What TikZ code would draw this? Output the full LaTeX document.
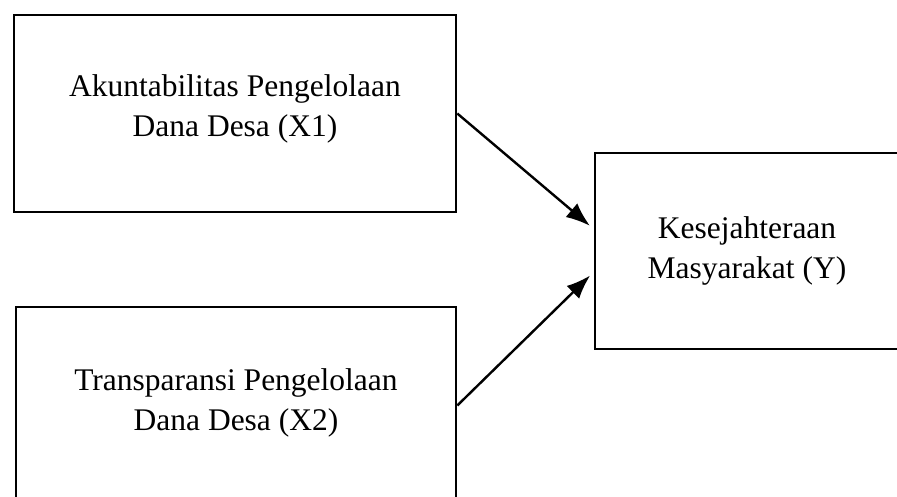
\documentclass[tikz,border=0pt]{standalone}
\usepackage{fontspec}
\setmainfont{Liberation Serif}
\usetikzlibrary{arrows.meta}

\tikzset{
	varbox/.style = {draw, line width=2.6pt, inner sep=0pt},
	vartext/.style = {align=center, inner sep=0pt, font=\fontsize{31.5}{40}\selectfont},
	link/.style = {line width=2.4pt, -{Latex[length=24pt, width=18pt]}, shorten >=5pt}
}

\begin{document}
\begin{tikzpicture}[x=1pt, y=-1pt]
		\useasboundingbox (0, 0) rectangle (897, 496);
		\clip (0, 0) rectangle (897, 496);
		
		% left
		\node[varbox, minimum width=442pt, minimum height=197pt] (akun) at (235, 113.5) {};
		\node[vartext, yshift=5pt] (akuntext) at (akun) {Akuntabilitas Pengelolaan\\Dana Desa (X1)};
		\node[varbox, minimum width=440pt, minimum height=197pt] (trans) at (236, 405.5) {};
		\node[vartext, yshift=3pt] (transtext) at (trans) {Transparansi Pengelolaan\\Dana Desa (X2)};
		
		% right
		\node[varbox, minimum width=304pt, minimum height=196pt] (kesej) at (747, 251) {};
		\node[vartext] (kesejtext) at (kesej) {Kesejahteraan\\Masyarakat (Y)};
		
		% arrows
		\draw[link] (akun.east) -- ([yshift=22pt]kesej.west);
		\draw[link] (trans.east) -- ([yshift=-21pt]kesej.west);
	\end{tikzpicture}
\end{document}
